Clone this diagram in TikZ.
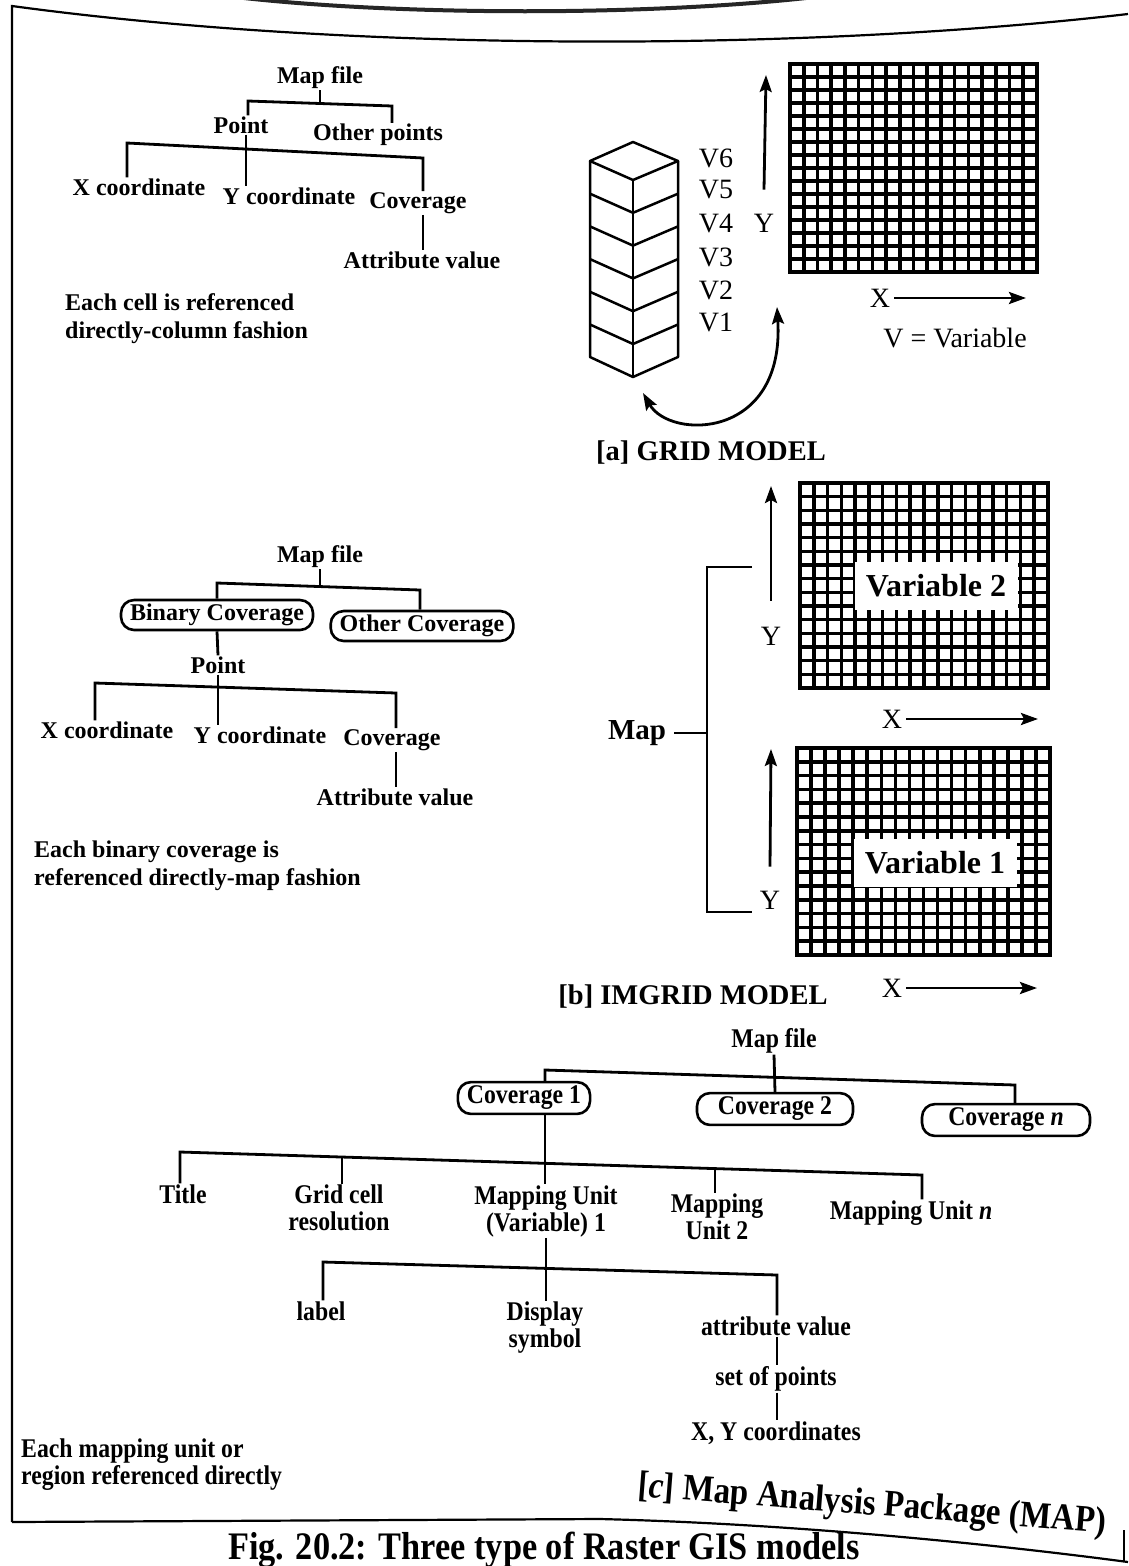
\documentclass[tikz,border=0pt]{standalone}
\usepackage{fontspec}
\setmainfont{Liberation Serif}
\newfontfamily\condfont[FakeStretch=0.88]{Liberation Serif}
\usetikzlibrary{arrows.meta,calc}
\newcommand{\rastergrid}[6]{%
  \pgfmathsetmacro{\gdx}{(#3-#1)/#5}%
  \pgfmathsetmacro{\gdy}{(#4-#2)/#6}%
  \foreach \gi in {0,...,#5}{\draw[gridl] ({#1+\gi*\gdx},#2) -- ({#1+\gi*\gdx},#4);}%
  \foreach \gj in {0,...,#6}{\draw[gridl] (#1,{#2+\gj*\gdy}) -- (#3,{#2+\gj*\gdy});}%
  \draw[line width=4pt] (#1,#2) rectangle (#3,#4);%
}
\begin{document}
\begin{tikzpicture}[x=1pt,y=-1pt,
  tree/.style={line width=2.8pt},
  gridl/.style={line width=3.6pt},
  bt/.style={font=\fontsize{24}{28}\selectfont\bfseries, inner sep=1pt, align=center},
  rt/.style={font=\fontsize{28}{30}\selectfont, inner sep=1pt},
  ct/.style={font=\condfont\fontsize{27}{27}\selectfont\bfseries, inner sep=1pt, align=center},
  pill/.style={draw, line width=2.6pt, rounded corners=13pt, inner xsep=9pt, inner ysep=4pt},
  arr/.style={line width=2.8pt, -{Stealth[length=17pt,width=12pt,inset=3pt]}},
  captext/.style={font=\fontsize{28.5}{30}\selectfont\bfseries, inner sep=1pt},
  varbox/.style={fill=white, font=\fontsize{32}{34}\selectfont\bfseries, minimum width=163pt, minimum height=48pt, inner sep=0pt}
]
\useasboundingbox (0,0) rectangle (1128,1566);
\clip (0,0) rectangle (1128,1566);
\fill[white] (0,0) rectangle (1128,1566);

% ---- page frame ----
\draw[line width=4pt, black!85] (235,-3) .. controls (400,16) and (650,16) .. (815,-3);
\draw[line width=2.2pt] (12,1522) -- (12,6) .. controls (350,52) and (800,52) .. (1128,14);
\draw[line width=2.2pt] (12,1522) -- (600,1519) .. controls (800,1524) and (1000,1545) .. (1128,1562);
\draw[line width=2.2pt] (1124,1530) -- (1124,1562);

% ================= [a] GRID MODEL =================
\node[bt] (mf1) at (320,78) {Map file};
\node[bt] (pt1) at (241,125) {Point};
\node[bt] (op1) at (378,135) {Other points};
\node[bt] (xc1) at (139,187) {X coordinate};
\node[bt] (yc1) at (289,196) {Y coordinate};
\node[bt] (cv1) at (418,203) {Coverage};
\node[bt] (av1) at (422,260) {Attribute value};
\node[bt, anchor=west, align=left] (nt1) at (64,319) {Each cell is referenced\\directly-column fashion};

\draw[tree] (mf1.south) -- (mf1.south |- 0,104);
\draw[tree] (248,0 |- pt1.north) -- (248,101) -- (392,106) -- (392,0 |- op1.north);
\draw[tree] (246,0 |- pt1.south) -- (246,0 |- yc1.north);
\draw[tree] (127,0 |- xc1.north) -- (127,143) -- (423,158) -- (423,0 |- cv1.north);
\draw[tree] (423,0 |- cv1.south) -- (423,0 |- av1.north);

% column of variables
\begin{scope}[line width=2.5pt, line join=round]
  \draw (590,161) -- (633,142) -- (678,161) -- (633,180) -- cycle;
  \draw (590,161) -- (590,357) -- (633,377) -- (678,357) -- (678,161);
  \draw (633,180) -- (633,377);
  \foreach \k in {1,...,5}{
    \draw (590,{161+32.7*\k}) -- (633,{180+32.8*\k}) -- (678,{161+32.7*\k});
  }
\end{scope}
\node[rt] (v6) at (716,158) {V6};
\node[rt] (v5) at (716,190) {V5};
\node[rt] (v4) at (716,223) {V4};
\node[rt] (v3) at (716,257) {V3};
\node[rt] (v2) at (716,290) {V2};
\node[rt] (v1) at (716,322) {V1};

\node[rt] (ya) at (764,223) {Y};
\draw[arr] ([yshift=23pt]ya.north) -- (766,75);
\rastergrid{790}{64}{1037}{272}{18}{16}
\node[rt] (xa) at (880,298) {X};
\draw[arr] ([xshift=3pt]xa.east) -- (1026,298);
\node[rt] (vv) at (955,338) {V = Variable};

\coordinate (colend) at (643,393);
\coordinate (v1end) at (777,307);
\draw[line width=2.8pt, {Stealth[length=17pt,width=12pt,inset=3pt]}-{Stealth[length=17pt,width=12pt,inset=3pt]}]
  (colend) .. controls (670,440) and (785,440) .. (v1end);

\node[captext] (capa) at (711,453) {[a] GRID MODEL};

% ================= [b] IMGRID MODEL =================
\node[bt] (mf2) at (320,557) {Map file};
\node[bt,pill] (bc2) at (217,615) {Binary Coverage};
\node[bt,pill] (oc2) at (422,626) {Other Coverage};
\node[bt] (pt2) at (218,665) {Point};
\node[bt] (xc2) at (107,730) {X coordinate};
\node[bt] (yc2) at (260,735) {Y coordinate};
\node[bt] (cv2) at (392,740) {Coverage};
\node[bt] (av2) at (395,797) {Attribute value};
\node[bt, anchor=west, align=left] (nt2) at (33,866) {Each binary coverage is\\referenced directly-map fashion};

\draw[tree] (mf2.south) -- (mf2.south |- 0,587);
\draw[tree] (217,0 |- bc2.north) -- (217,583) -- (420,590) -- (420,0 |- oc2.north);
\draw[tree] (bc2.south) -- (pt2.north);
\draw[tree] (218,0 |- pt2.south) -- (218,0 |- yc2.north);
\draw[tree] (95,0 |- xc2.north) -- (95,683) -- (396,693) -- (396,0 |- cv2.north);
\draw[tree] (396,0 |- cv2.south) -- (396,0 |- av2.north);

\rastergrid{800}{483}{1048}{688}{18}{15}
\node[varbox] (var2) at (936,586) {Variable 2};
\rastergrid{797}{748}{1050}{955}{18}{15}
\node[varbox] (var1) at (935,863) {Variable 1};

\node[rt] (yb2) at (771,636) {Y};
\draw[arr] ([yshift=25pt]yb2.north) -- (771,486);
\node[rt] (xb2) at (892,719) {X};
\draw[arr] ([xshift=3pt]xb2.east) -- (1038,719);
\node[rt] (yb1) at (770,900) {Y};
\draw[arr] ([yshift=23pt]yb1.north) -- (771,749);
\node[rt] (xb1) at (892,988) {X};
\draw[arr] ([xshift=3pt]xb1.east) -- (1037,988);

\node[font=\fontsize{29}{31}\selectfont\bfseries, inner sep=1pt] (map) at (637,733) {Map};
\coordinate (brtop) at (752,567);
\coordinate (brbot) at (752,912);
\draw[line width=2.5pt] ([xshift=7pt]map.east) -- (707,733);
\draw[line width=2.5pt] (brtop) -- (707,567) -- (707,912) -- (brbot);

\node[captext] (capb) at (693,997) {[b] IMGRID MODEL};

% ================= [c] MAP =================
\node[ct] (mf3) at (774,1041) {Map file};
\node[ct,pill] (c31) at (524,1098) {Coverage 1};
\node[ct,pill, minimum width=156pt] (c32) at (775,1109) {Coverage 2};
\node[ct,pill, minimum width=168pt] (c3n) at (1006,1120) {Coverage \textit{n}};
\draw[tree] (mf3.south) -- (c32.north);
\draw[tree] (545,0 |- c31.north) -- (545,1070) -- (1015,1085) -- (1015,0 |- c3n.north);

\node[ct] (ti) at (183,1194) {Title};
\node[ct] (gc) at (339,1208) {Grid cell\\resolution};
\node[ct] (mu1) at (546,1211) {Mapping Unit\\(Variable) 1};
\node[ct] (mu2) at (717,1217) {Mapping\\Unit 2};
\node[ct] (mun) at (911,1213) {Mapping Unit \textit{n}};
\draw[tree] (545,0 |- c31.south) -- (545,0 |- mu1.north);
\draw[tree] (180,0 |- ti.north) -- (180,1152) -- (922,1175) -- (922,0 |- mun.north);
\draw[tree] (342,1157) -- (342,0 |- gc.north);
\draw[tree] (715,1168.6) -- (715,0 |- mu2.north);

\node[ct] (lb) at (321,1311) {label};
\node[ct] (ds) at (545,1328) {Display\\symbol};
\node[ct] (atv) at (776,1326) {attribute value};
\node[ct] (sop) at (776,1379) {set of points};
\node[ct] (xy3) at (776,1433) {X, Y coordinates};
\draw[tree] (546,0 |- mu1.south) -- (546,0 |- ds.north);
\draw[tree] (323,0 |- lb.north) -- (323,1262) -- (777,1275) -- (777,0 |- atv.north);
\draw[tree] (777,0 |- atv.south) -- (777,0 |- sop.north);
\draw[tree] (777,0 |- sop.south) -- (777,0 |- xy3.north);

\node[ct, anchor=west, align=left] (nt3) at (20,1465) {Each mapping unit or\\region referenced directly};
\node[font=\condfont\fontsize{37.5}{40}\selectfont\bfseries, rotate=-4.5, inner sep=1pt] (capc) at (872,1506) {[\textit{c}] Map Analysis Package (MAP)};

\node[font=\condfont\fontsize{39}{42}\selectfont\bfseries, anchor=west, inner sep=0pt] (fig) at (228,1550) {Fig. 20.2: Three type of Raster GIS models};
\end{tikzpicture}
\end{document}
